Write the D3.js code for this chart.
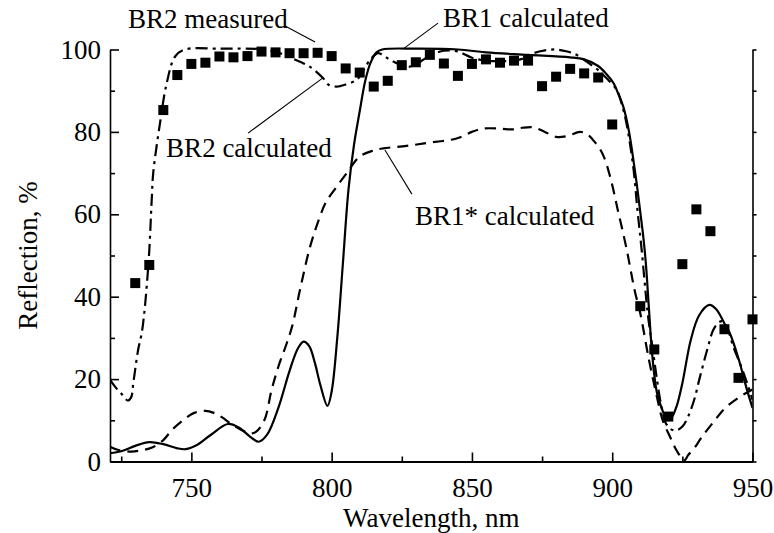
<!DOCTYPE html>
<html>
<head>
<meta charset="utf-8">
<script src="https://cdn.jsdelivr.net/npm/d3@7"></script>
<style>
  body { margin: 0; background: #fff; }
  svg { display: block; }
  text { font-family: "Liberation Serif", "Times New Roman", serif; fill: #000; }
</style>
</head>
<body>
<div id="svg-container"></div>
<script>
// data
// BR2 measured (squares)
const measWl = [730, 735, 740, 745, 750, 755, 760, 765, 770, 775, 780, 785, 790, 795, 800, 805, 810, 815, 820, 825, 830, 835, 840, 845, 850, 855, 860, 865, 870, 875, 880, 885, 890, 895, 900, 910, 915, 920, 925, 930, 935, 940, 945, 950];
const measR = [43.3, 47.7, 85.3, 93.8, 96.5, 96.8, 98.3, 98.1, 98.4, 99.5, 99.3, 99.1, 99.1, 99.2, 98.4, 95.4, 94.4, 91, 92.4, 96.2, 96.9, 98.7, 96.6, 93.6, 96.5, 97.6, 96.8, 97.3, 97.3, 91.1, 93.4, 95.3, 94.2, 93.2, 81.8, 37.7, 27.2, 10.9, 47.9, 61.2, 55.9, 32.1, 20.3, 34.5];

// BR1 calculated (solid)
const br1Wl = [721, 725, 730, 735, 740, 745, 748, 752, 757, 763, 767, 771, 774, 777, 781, 785, 788, 790, 792, 794, 796, 798.5, 800, 802, 804, 806, 808, 810, 812, 814, 816, 818, 830, 845, 855, 870, 885, 890, 895, 898, 900.5, 902, 904, 906, 908, 909, 910, 911, 912, 913, 914, 915, 916, 917.6, 919.6, 921, 923, 925, 928, 931, 934.6, 937, 940, 942, 945, 948, 950];
const br1R = [2.0, 2.5, 3.8, 4.7, 4.2, 3.2, 3.0, 4.0, 6.5, 9.1, 8.2, 6.0, 4.8, 6.5, 13, 22, 27.5, 29.1, 28, 24, 18.5, 13.5, 17, 30, 48, 66, 77, 85, 92.5, 97, 99.3, 100, 100.2, 100, 99.3, 98.7, 98.1, 97.6, 96, 94, 91.8, 89.5, 86, 80, 71, 66, 60.5, 55, 48, 38, 28, 21, 16.5, 13, 10.1, 10.5, 13.5, 19, 29.5, 35.5, 38, 37, 33.5, 31, 25, 17.5, 13];

// BR1* calculated (dashed)
const br1sWl = [721, 724, 728.7, 732, 736, 740, 743, 747, 751, 755, 758, 761, 764, 768, 771, 773, 776, 778.6, 781, 784, 786, 788.7, 792.3, 795.8, 798, 801.8, 805.4, 810, 815, 818.4, 826.7, 835, 844.5, 850, 854, 860, 864.7, 868, 872, 876, 880, 884, 888.5, 891, 893.2, 895, 897, 899.5, 902, 905, 908, 910, 913, 916, 918, 920.6, 922.5, 924, 925, 926, 927, 929, 932, 936, 940, 945, 950];
const br1sR = [3.6, 2.8, 2.4, 2.7, 3.4, 5.2, 7.6, 10, 11.8, 12.3, 11.8, 10.7, 9.2, 7.6, 6.8, 7.2, 10, 17.4, 23, 28.7, 33, 41.6, 52.1, 59.4, 63, 66.7, 70, 74, 75.5, 76, 76.6, 77.4, 78.4, 80, 80.8, 80.8, 80.6, 81, 81.1, 80, 78.8, 79, 80, 79.5, 78, 76.5, 74, 68.5, 61, 52, 41.5, 36, 25, 15.5, 10, 6, 3.2, 1.5, 0.3, 0.4, 1.5, 3, 6, 9.5, 12.8, 15.5, 17.5];

// BR2 calculated (dash-dot)
const br2Wl = [721, 723, 725, 727.3, 728.5, 729.3, 731, 732.5, 734.7, 735.9, 736.4, 738.8, 741.2, 744.2, 747.7, 760, 776, 782, 788.7, 792.3, 797, 799, 801.8, 805, 808.9, 811, 813.7, 816.6, 818.5, 820.8, 826.7, 830, 832.6, 836, 840, 845, 850, 855, 865, 869, 872, 876, 880, 884, 887.3, 891, 895, 898, 901.6, 903.5, 905.1, 907.5, 909, 910.5, 912.8, 914.5, 915.8, 917.5, 919.1, 921, 923, 925, 926.5, 929, 931.3, 934, 936, 938, 939.5, 941, 943.1, 946, 948.5, 950];
const br2R = [19.8, 18, 16.5, 14.8, 15.5, 19, 27, 32, 48, 64, 70, 82, 91.8, 98.3, 100, 100.2, 100, 99, 97, 95.8, 93, 91.4, 91, 91.5, 92.6, 94.5, 97.5, 99.1, 98.5, 97.5, 95.8, 96.3, 97.5, 98.8, 99.7, 99.5, 98, 97.3, 97.3, 98, 99.1, 99.8, 100, 99.5, 98.7, 97, 95, 93, 90.2, 86.5, 82, 71.5, 61, 51.3, 35.1, 27, 20.6, 13.5, 9.3, 7.8, 7.6, 8.5, 10.1, 14.5, 20.6, 27.5, 31.9, 33.8, 34, 32.5, 28, 23, 18.2, 15];

const xTicks = [750, 800, 850, 900, 950];
const yTicks = [0, 20, 40, 60, 80, 100];

// annotation labels, in data units: text start, leader from -> to
const labels = [
  { text: "BR2 measured", x: 727.4, y: 105.2, l: [783.4, 105.7, 794.1, 101.8] },
  { text: "BR1 calculated", x: 839.7, y: 105.5, l: [837.9, 106.4, 825.4, 100.1] },
  { text: "BR2 calculated", x: 741, y: 73.9, l: [770.2, 79.7, 796.9, 93.1] },
  { text: "BR1* calculated", x: 829.7, y: 57.4, l: [819, 75.6, 828.6, 64.9] },
];

////////////////////////////  Init  ///////////////////////////////
const width = 774;
const height = 533;
const margin = { top: 49.5, right: 21.5, bottom: 71.5, left: 110 };

const svg = d3.select("#svg-container").append("svg")
  .attr("width", width).attr("height", height);

const xScale = d3.scaleLinear().domain([721, 950]).range([margin.left, width - margin.right]);
const yScale = d3.scaleLinear().domain([0, 100]).range([height - margin.bottom, margin.top]);

svg.append("clipPath").attr("id", "plot-clip")
  .append("rect")
  .attr("x", margin.left).attr("y", margin.top - 5)
  .attr("width", width - margin.left - margin.right)
  .attr("height", height - margin.top - margin.bottom + 5);

const fs = 27;

// minor ticks (drawn first, no labels)
svg.append("g")
  .attr("transform", `translate(0, ${height - margin.bottom})`)
  .call(d3.axisBottom(xScale).tickValues([725, 775, 825, 875, 925]).tickSize(-5).tickFormat(""))
  .call((g) => g.select(".domain").remove());
svg.append("g")
  .attr("transform", `translate(${margin.left}, 0)`)
  .call(d3.axisLeft(yScale).tickValues([10, 30, 50, 70, 90]).tickSize(-5).tickFormat(""))
  .call((g) => g.select(".domain").remove());

// x axis
const xAxisG = svg.append("g")
  .attr("transform", `translate(0, ${height - margin.bottom})`)
  .call(d3.axisBottom(xScale).tickValues(xTicks).tickSize(-9).tickSizeOuter(0).tickPadding(16));
// y axis
const yAxisG = svg.append("g")
  .attr("transform", `translate(${margin.left}, 0)`)
  .call(d3.axisLeft(yScale).tickValues(yTicks).tickSize(-9).tickSizeOuter(0).tickPadding(9));
// right axis
svg.append("g")
  .attr("transform", `translate(${width - margin.right}, 0)`)
  .call(d3.axisRight(yScale).tickValues(d3.range(0, 101, 10)).tickSize(4).tickSizeOuter(0).tickFormat(""));

svg.selectAll(".tick line, .domain").attr("stroke", "#000").attr("stroke-width", 1.6);
xAxisG.select(".domain").attr("stroke-width", 2.2);
svg.selectAll(".tick text")
  .style("font-family", '"Liberation Serif", "Times New Roman", serif')
  .style("font-size", fs + "px")
  .attr("fill", "#000");

// axis titles
svg.append("text")
  .attr("x", (margin.left + width - margin.right) / 2)
  .attr("y", 527)
  .attr("text-anchor", "middle")
  .style("font-size", fs + "px")
  .text("Wavelength, nm");
svg.append("text")
  .attr("transform", `translate(37, ${(margin.top + height - margin.bottom) / 2}) rotate(-90)`)
  .attr("text-anchor", "middle")
  .style("font-size", fs + "px")
  .text("Reflection, %");

// curves
const line = d3.line()
  .curve(d3.curveCatmullRom.alpha(0.5))
  .x((d) => xScale(d[0]))
  .y((d) => yScale(d[1]));

const plot = svg.append("g").attr("clip-path", "url(#plot-clip)");

const series = [
  { wl: br1sWl, r: br1sR, dash: "11,7" },
  { wl: br2Wl, r: br2R, dash: "12,5,3,5" },
  { wl: br1Wl, r: br1R, dash: null },
];
series.forEach((s) => {
  plot.append("path")
    .datum(d3.zip(s.wl, s.r))
    .attr("d", line)
    .attr("fill", "none")
    .attr("stroke", "#000")
    .attr("stroke-width", 2.2)
    .attr("stroke-dasharray", s.dash);
});

// measured squares
const sq = 10;
svg.append("g")
  .selectAll("rect")
  .data(d3.zip(measWl, measR))
  .join("rect")
  .attr("x", (d) => xScale(d[0]) - sq / 2)
  .attr("y", (d) => yScale(d[1]) - sq / 2)
  .attr("width", sq)
  .attr("height", sq)
  .attr("fill", "#000");

// annotations
labels.forEach((a) => {
  svg.append("text")
    .attr("x", xScale(a.x))
    .attr("y", yScale(a.y))
    .style("font-size", fs + "px")
    .text(a.text);
  svg.append("line")
    .attr("x1", xScale(a.l[0])).attr("y1", yScale(a.l[1]))
    .attr("x2", xScale(a.l[2])).attr("y2", yScale(a.l[3]))
    .attr("stroke", "#000")
    .attr("stroke-width", 1.1);
});
</script>
</body>
</html>
